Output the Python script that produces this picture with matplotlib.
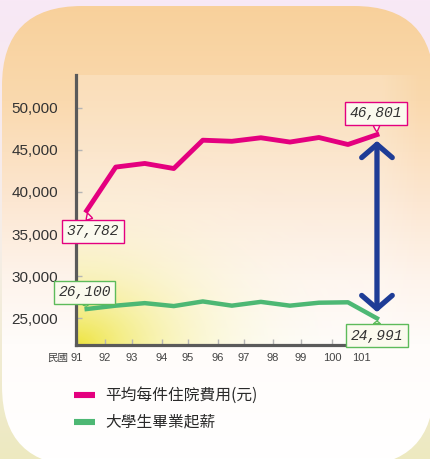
import numpy as np
import matplotlib
matplotlib.use("Agg")
import matplotlib.pyplot as plt
from matplotlib.patches import FancyBboxPatch
from matplotlib.colors import to_rgb

# ── Datos ────────────────────────────────────────────────────────────────
YEARS = ["91", "92", "93", "94", "95", "96", "97", "98", "99", "100", "101"]
HOSPITAL_COST = [37782, 42950, 43380, 42780, 46140, 46010, 46430, 45920, 46460, 45630, 46801]
STARTING_SALARY = [26100, 26500, 26800, 26450, 27000, 26500, 26950, 26500, 26850, 26900, 24991]
Y_TICKS = [25000, 30000, 35000, 40000, 45000, 50000]
SERIES_NAMES = ["平均每件住院費用(元)", "大學生畢業起薪"]
ERA_LABEL = "民國"

PINK = "#E4007F"
GREEN = "#4DB874"
BLUE = "#1E3C96"
CJK = ["Noto Sans CJK TC", "DejaVu Sans"]
HAND = "Liberation Mono"

# tick marks sit a little left of the data points in the original
XTICK_POS = [-0.334, 0.63, 1.56, 2.59, 3.49, 4.52, 5.42, 6.42, 7.38, 8.45, 9.48]

W, H = 431, 459
fig = plt.figure(figsize=(W / 100, H / 100), dpi=100)


def vgrad(stops, n=H):
    ys = np.linspace(0, 1, n)
    pos = [s[0] for s in stops]
    cols = np.array([to_rgb(s[1]) for s in stops])
    img = np.stack([np.interp(ys, pos, cols[:, k]) for k in range(3)], axis=-1)
    return img[:, None, :]


# ── Fondo (coordenadas en píxeles) ────────────────────────────────────────
bg = fig.add_axes([0, 0, 1, 1])
bg.set_xlim(0, W)
bg.set_ylim(H, 0)
bg.axis("off")

bg.imshow(vgrad([(0, "#F8E8F6"), (0.55, "#F5EEE6"), (1, "#EDE9C0")]),
          extent=(0, W, H, 0), aspect="auto", zorder=0)

card = FancyBboxPatch((2, 6), 432, 460, boxstyle="round,pad=0,rounding_size=80",
                      fc="none", ec="none")
bg.add_patch(card)
card_img = bg.imshow(vgrad([(0, "#F8D09A"), (0.22, "#FAD9AE"), (0.44, "#FCE7D2"),
                            (0.61, "#FEF4EC"), (0.75, "#FFFCFA"), (1, "#FFFFFF")]),
                     extent=(0, W, H, 0), aspect="auto", zorder=1)
card_img.set_clip_path(card)

# plot area: slightly lighter + yellow glow from the lower-left corner
x0, x1, y0, y1 = 76, 388, 75, 345
gx, gy = np.meshgrid(np.arange(x0, W), np.arange(y0, y1))
d = np.sqrt(((gx - x0) / 300.0) ** 2 + ((y1 - gy) / 210.0) ** 2)
a_y = np.clip(1 - d, 0, 1) ** 1.7
fade = np.clip((W - 10 - gx) / 40.0, 0, 1)
yel = np.array(to_rgb("#EEE43C"))
rgba = np.zeros(gx.shape + (4,))
rgba[..., :3] = (1 - a_y[..., None]) * 1.0 + a_y[..., None] * yel
rgba[..., 3] = 0.2 * fade + 0.8 * a_y
ov = bg.imshow(rgba, extent=(x0, W, y1, y0), aspect="auto", zorder=2)
ov.set_clip_path(card)

# leyenda
for yy, col, name in [(395, PINK, SERIES_NAMES[0]), (421.5, GREEN, SERIES_NAMES[1])]:
    bg.plot([74, 95], [yy, yy], color=col, lw=4.4, solid_capstyle="butt", zorder=3)
    bg.text(105, yy, name, family=CJK, fontsize=11.3, color="#2A2A2A",
            va="center", ha="left", zorder=3)

bg.text(58, 357.5, ERA_LABEL, family=CJK, fontsize=7.6, color="#444",
        ha="center", va="center", zorder=3)

# ── Gráfico ──────────────────────────────────────────────────────────────
ax = fig.add_axes([x0 / W, 1 - y1 / H, (x1 - x0) / W, (y1 - y0) / H])
ax.patch.set_alpha(0)

xs = np.arange(len(YEARS))
ax.plot(xs, HOSPITAL_COST, color=PINK, lw=3.5, zorder=3)
ax.plot(xs, STARTING_SALARY, color=GREEN, lw=3.2, zorder=3)

ax.set_xlim(-0.369, 10.38)
ax.set_ylim(21830, 53880)

ax.set_yticks(Y_TICKS)
ax.set_yticklabels([f"{v:,}" for v in Y_TICKS], family="Liberation Sans",
                   fontsize=11, color="#333")
ax.set_xticks(XTICK_POS)
ax.set_xticklabels(YEARS, family="Liberation Sans", fontsize=8, color="#444")
ax.tick_params(axis="y", direction="in", length=4, width=1, color="#B5B5B5", pad=13)
ax.tick_params(axis="x", direction="in", length=4, width=1, color="#B5B5B5", pad=6)

for s in ("top", "right"):
    ax.spines[s].set_visible(False)
for s in ("left", "bottom"):
    ax.spines[s].set_color("#5A5A5A")
    ax.spines[s].set_linewidth(2.3)

# flecha doble
ax.annotate("", xy=(xs[-1], HOSPITAL_COST[-1]), xytext=(xs[-1], STARTING_SALARY[-1]),
            arrowprops=dict(arrowstyle="<->,head_length=0.95,head_width=1.1",
                            lw=3.8, color=BLUE, shrinkA=4.5, shrinkB=4.5,
                            mutation_scale=10), zorder=4)

# etiquetas de valor
labels = [
    (0, HOSPITAL_COST[0], (4.5, -14.8), PINK),
    (0, STARTING_SALARY[0], (-1.6, 12.0), "#5DBB5A"),
    (10, HOSPITAL_COST[-1], (-0.7, 15.3), PINK),
    (10, STARTING_SALARY[-1], (0, -12.4), "#5DBB5A"),
]
for i, v, off, ec in labels:
    ax.annotate(f"{v:,}", xy=(xs[i], v), xytext=off, textcoords="offset points",
                ha="center", va="center", family=HAND, style="italic",
                fontsize=10.5, color="#333",
                bbox=dict(boxstyle="square,pad=0.3", fc="#FBFAEE", ec=ec, lw=1),
                arrowprops=dict(arrowstyle="wedge,tail_width=0.45,shrink_factor=0.6",
                                fc="#FBFAEE", ec=ec, lw=1, shrinkA=0, shrinkB=2),
                zorder=5)

fig.savefig("out.png", dpi=100)
